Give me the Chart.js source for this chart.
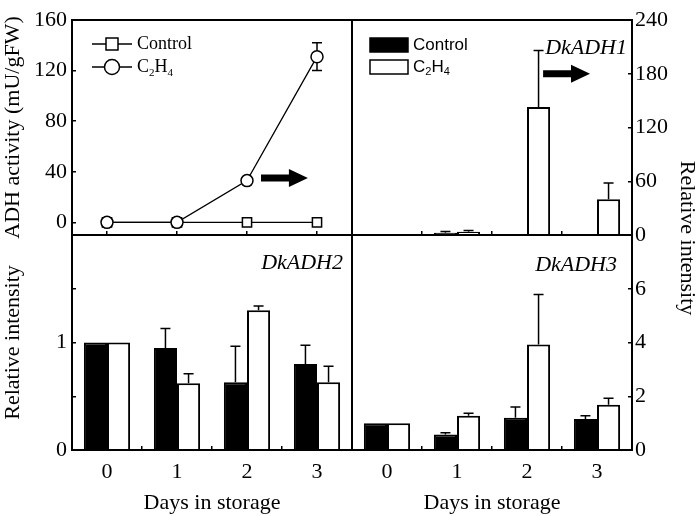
<!DOCTYPE html>
<html>
<head>
<meta charset="utf-8">
<script src="https://cdn.jsdelivr.net/npm/chart.js@4.4.1/dist/chart.umd.min.js"></script>
<style>
  html, body { margin: 0; padding: 0; background: #fff; }
  #wrap { position: relative; width: 700px; height: 516px; }
  #wrap canvas { position: absolute; left: 0; top: 0; }
</style>
</head>
<body>
<div id="wrap">
  <canvas id="adhChart" width="700" height="516"></canvas>
  <canvas id="adh1Chart" width="700" height="516"></canvas>
  <canvas id="adh2Chart" width="700" height="516"></canvas>
  <canvas id="adh3Chart" width="700" height="516"></canvas>
</div>
<script>
/* ── data ── */
const days = ['0', '1', '2', '3'];
const seriesNames = ['Control', 'C2H4'];

// ADH activity (mU/gFW)
const adhControl    = [0, 0, 0, 0];
const adhControlErr = [0, 0, 0, 0];
const adhEthylene    = [0, 0, 33, 131];
const adhEthyleneErr = [1, 1, 3, 11];

// DkADH1 relative intensity
const adh1Control    = [0.5, 2.5, 0.5, 1];
const adh1ControlErr = [0, 1.5, 0, 0];
const adh1Ethylene    = [0.5, 3.5, 143, 40];
const adh1EthyleneErr = [0, 1.5, 63, 18];

// DkADH2 relative intensity
const adh2Control    = [1, 0.95, 0.63, 0.8];
const adh2ControlErr = [0, 0.18, 0.335, 0.175];
const adh2Ethylene    = [1, 0.62, 1.3, 0.63];
const adh2EthyleneErr = [0, 0.09, 0.04, 0.15];

// DkADH3 relative intensity
const adh3Control    = [1, 0.58, 1.2, 1.15];
const adh3ControlErr = [0, 0.06, 0.4, 0.12];
const adh3Ethylene    = [1, 1.27, 3.93, 1.68];
const adh3EthyleneErr = [0, 0.1, 1.86, 0.25];

// arrows (x from, x to, y) in data units of their panel
const arrowAdh  = [2.2, 2.87, 35];
const arrowAdh1 = [2.23, 2.9, 180];

/* ── fonts ── */
const SERIF = "'Liberation Serif', 'Times New Roman', serif";
const SANS = "'Liberation Sans', Arial, sans-serif";

Chart.defaults.font.family = SERIF;
Chart.defaults.font.size = 22;
Chart.defaults.color = '#000';

// digits are drawn as subscripts (C2H4)
function drawChem(ctx, text, x, y, size, family) {
  let cx = x;
  for (const ch of text) {
    const sub = /[0-9]/.test(ch);
    ctx.font = (sub ? Math.round(size * 0.62) : size) + 'px ' + family;
    ctx.fillText(ch, cx, sub ? y + size * 0.32 : y);
    cx += ctx.measureText(ch).width;
  }
}

/* ── frame, error bars, legends, labels, arrows ── */
const panelDeco = {
  id: 'panelDeco',
  beforeDatasetsDraw(chart, args, opts) {
    const errs = opts.errors;
    if (!errs) return;
    const ctx = chart.ctx, ys = chart.scales.y;
    ctx.save();
    ctx.strokeStyle = '#000';
    ctx.lineWidth = 1.5;
    chart.data.datasets.forEach((ds, di) => {
      const err = errs[di];
      if (!err) return;
      chart.getDatasetMeta(di).data.forEach((el, i) => {
        const e = err[i];
        if (!e) return;
        const v = ds.data[i];
        const yTop = ys.getPixelForValue(v + e);
        const yBot = ys.getPixelForValue(opts.twoSided ? v - e : v);
        ctx.beginPath();
        ctx.moveTo(el.x, yBot);
        ctx.lineTo(el.x, yTop);
        ctx.moveTo(el.x - 5, yTop);
        ctx.lineTo(el.x + 5, yTop);
        if (opts.twoSided) {
          ctx.moveTo(el.x - 5, yBot);
          ctx.lineTo(el.x + 5, yBot);
        }
        ctx.stroke();
      });
    });
    ctx.restore();
  },
  afterDatasetsDraw(chart, args, opts) {
    const ctx = chart.ctx, ca = chart.chartArea;
    ctx.save();

    // box around the panel
    ctx.strokeStyle = '#000';
    ctx.lineWidth = 2;
    ctx.strokeRect(ca.left, ca.top, ca.right - ca.left, ca.bottom - ca.top);

    // arrow
    if (opts.arrow) {
      const a = opts.arrow;
      const x0 = chart.scales.x.getPixelForValue(a[0]);
      const x1 = chart.scales.x.getPixelForValue(a[1]);
      const y = chart.scales.y.getPixelForValue(a[2]);
      const head = 19, half = 9, sh = 3.5;
      ctx.fillStyle = '#000';
      ctx.beginPath();
      ctx.moveTo(x0, y - sh);
      ctx.lineTo(x1 - head, y - sh);
      ctx.lineTo(x1 - head, y - half);
      ctx.lineTo(x1, y);
      ctx.lineTo(x1 - head, y + half);
      ctx.lineTo(x1 - head, y + sh);
      ctx.lineTo(x0, y + sh);
      ctx.closePath();
      ctx.fill();
    }

    // gene name
    if (opts.gene) {
      ctx.fillStyle = '#000';
      ctx.font = 'italic 22px ' + SERIF;
      ctx.textAlign = 'right';
      ctx.textBaseline = 'middle';
      ctx.fillText(opts.gene.text, ca.right - opts.gene.dx, ca.top + opts.gene.dy);
    }

    // legend
    if (opts.legend) {
      const lg = opts.legend;
      ctx.textAlign = 'left';
      ctx.textBaseline = 'middle';
      chart.data.datasets.forEach((ds, i) => {
        const y = ca.top + lg.rows[i];
        const x = ca.left + lg.dx;
        ctx.strokeStyle = '#000';
        ctx.lineWidth = 1.5;
        if (lg.style === 'line') {
          ctx.beginPath();
          ctx.moveTo(x, y);
          ctx.lineTo(x + 40, y);
          ctx.stroke();
          ctx.fillStyle = '#fff';
          ctx.beginPath();
          if (ds.pointStyle === 'rect') ctx.rect(x + 14, y - 6, 12, 12);
          else ctx.arc(x + 20, y, 7.5, 0, Math.PI * 2);
          ctx.fill();
          ctx.stroke();
        } else {
          ctx.fillStyle = ds.backgroundColor;
          ctx.fillRect(x, y - 7, 38, 14);
          ctx.strokeRect(x, y - 7, 38, 14);
        }
        ctx.fillStyle = '#000';
        drawChem(ctx, ds.label, x + lg.textDx, y, lg.size, lg.family);
      });
    }

    // shared right-hand axis title
    if (opts.sideTitle) {
      ctx.fillStyle = '#000';
      ctx.font = '22px ' + SERIF;
      ctx.textAlign = 'center';
      ctx.textBaseline = 'middle';
      ctx.translate(ca.right + opts.sideTitle.dx, ca.bottom + opts.sideTitle.dy);
      ctx.rotate(Math.PI / 2);
      ctx.fillText(opts.sideTitle.text, 0, 0);
    }
    ctx.restore();
  }
};
Chart.register(panelDeco);

/* ── axis helpers ── */
function fixSize(w, h) {
  return s => {
    if (w !== null) s.width = w;
    if (h !== null) s.height = h;
    s.paddingTop = 0; s.paddingBottom = 0; s.paddingLeft = 0; s.paddingRight = 0;
  };
}

function xAxis(showLabels, gridOffset) {
  return {
    type: 'category',
    offset: true,
    border: { display: false },
    grid: { drawOnChartArea: false, tickLength: -4, offset: gridOffset, color: '#000', lineWidth: 1.5 },
    ticks: { display: showLabels, padding: 13, font: { size: 22 } },
    title: { display: showLabels, text: 'Days in storage', font: { size: 22 }, padding: { top: 0, bottom: 0 } },
    afterFit: fixSize(null, showLabels ? 66 : 0)
  };
}

function yAxis(pos, min, max, step, labelIf, title) {
  return {
    position: pos,
    min: min,
    max: max,
    border: { display: false },
    grid: { drawOnChartArea: false, tickLength: -4, color: '#000', lineWidth: 1.5 },
    ticks: {
      stepSize: step,
      includeBounds: false,
      padding: pos === 'left' ? 9 : 7,
      font: { size: 22 },
      callback: v => (labelIf(Math.round(v * 100) / 100) ? v : '')
    },
    title: { display: !!title, text: title || '', font: { size: 22 }, padding: { top: 0, bottom: 0 } },
    afterFit: fixSize(pos === 'left' ? 72 : 68, null)
  };
}

const base = {
  responsive: false,
  animation: false,
  devicePixelRatio: 1,
  events: []
};

function barSets(ctrl, eth) {
  return [
    { label: seriesNames[0], data: ctrl, backgroundColor: '#000', borderColor: '#000', borderWidth: 2,
      categoryPercentage: 0.66, barPercentage: 1 },
    { label: seriesNames[1], data: eth, backgroundColor: '#fff', borderColor: '#000', borderWidth: 2,
      categoryPercentage: 0.66, barPercentage: 1 }
  ];
}

/* ── top left: ADH activity ── */
new Chart(document.getElementById('adhChart'), {
  type: 'line',
  data: {
    labels: days,
    datasets: [
      { label: seriesNames[0], data: adhControl, order: 1, borderColor: '#000', borderWidth: 1.3,
        pointStyle: 'rect', pointRadius: 6.5, pointBorderWidth: 1.5, pointBackgroundColor: '#fff',
        pointBorderColor: '#000', tension: 0 },
      { label: seriesNames[1], data: adhEthylene, order: 0, borderColor: '#000', borderWidth: 1.3,
        pointStyle: 'circle', pointRadius: 6, pointBorderWidth: 1.5, pointBackgroundColor: '#fff',
        pointBorderColor: '#000', tension: 0 }
    ]
  },
  options: {
    ...base,
    layout: { padding: { left: 0, top: 20, right: 348, bottom: 281 } },
    scales: {
      x: xAxis(false, false),
      y: yAxis('left', -10, 160, 20, v => v >= 0 && v % 40 === 0, 'ADH activity (mU/gFW)')
    },
    plugins: {
      legend: { display: false },
      tooltip: { enabled: false },
      panelDeco: {
        errors: [adhControlErr, adhEthyleneErr],
        twoSided: true,
        arrow: arrowAdh,
        legend: { style: 'line', dx: 20, textDx: 45, rows: [24, 47], size: 18, family: SERIF }
      }
    }
  }
});

/* ── top right: DkADH1 ── */
new Chart(document.getElementById('adh1Chart'), {
  type: 'bar',
  data: { labels: days, datasets: barSets(adh1Control, adh1Ethylene) },
  options: {
    ...base,
    layout: { padding: { left: 352, top: 20, right: 0, bottom: 281 } },
    scales: {
      x: xAxis(false, true),
      y: yAxis('right', 0, 240, 30, v => v % 60 === 0, null)
    },
    plugins: {
      legend: { display: false },
      tooltip: { enabled: false },
      panelDeco: {
        errors: [adh1ControlErr, adh1EthyleneErr],
        arrow: arrowAdh1,
        gene: { text: 'DkADH1', dx: 5, dy: 28 },
        legend: { style: 'box', dx: 18, textDx: 43, rows: [25, 47], size: 17, family: SANS },
        sideTitle: { text: 'Relative intensity', dx: 55, dy: 3 }
      }
    }
  }
});

/* ── bottom left: DkADH2 ── */
new Chart(document.getElementById('adh2Chart'), {
  type: 'bar',
  data: { labels: days, datasets: barSets(adh2Control, adh2Ethylene) },
  options: {
    ...base,
    layout: { padding: { left: 0, top: 235, right: 348, bottom: 0 } },
    scales: {
      x: xAxis(true, true),
      y: yAxis('left', 0, 2, 0.5, v => v === 0 || v === 1, 'Relative intensity')
    },
    plugins: {
      legend: { display: false },
      tooltip: { enabled: false },
      panelDeco: {
        errors: [adh2ControlErr, adh2EthyleneErr],
        gene: { text: 'DkADH2', dx: 9, dy: 28 }
      }
    }
  }
});

/* ── bottom right: DkADH3 ── */
new Chart(document.getElementById('adh3Chart'), {
  type: 'bar',
  data: { labels: days, datasets: barSets(adh3Control, adh3Ethylene) },
  options: {
    ...base,
    layout: { padding: { left: 352, top: 235, right: 0, bottom: 0 } },
    scales: {
      x: xAxis(true, true),
      y: yAxis('right', 0, 8, 1, v => v % 2 === 0 && v < 8, null)
    },
    plugins: {
      legend: { display: false },
      tooltip: { enabled: false },
      panelDeco: {
        errors: [adh3ControlErr, adh3EthyleneErr],
        gene: { text: 'DkADH3', dx: 15, dy: 30 }
      }
    }
  }
});
</script>
</body>
</html>
